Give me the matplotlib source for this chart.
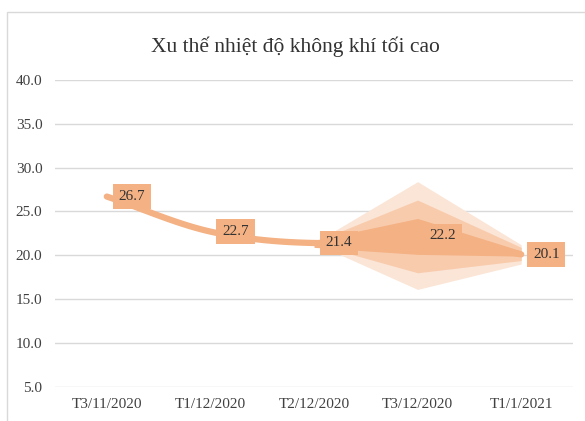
import matplotlib.pyplot as plt
import matplotlib.patches as patches
import numpy as np

plt.rcParams['font.family'] = ['Liberation Serif', 'DejaVu Serif']

categories = ['T3/11/2020', 'T1/12/2020', 'T2/12/2020', 'T3/12/2020', 'T1/1/2021']
values = [26.7, 22.7, 21.4, 22.2, 20.1]

# forecast cone (from T2/12 to T1/1)
cone_x = [2, 3, 4]
outer_hi = [21.4, 28.4, 21.2]
outer_lo = [21.4, 16.1, 19.0]
mid_hi = [21.5, 26.3, 20.9]
mid_lo = [21.3, 18.0, 19.4]
inner_hi = [21.7, 24.2, 20.5]
inner_lo = [20.9, 20.1, 19.9]

orange = '#F4B183'
mid_col = '#F8CBAD'
light_col = '#FBE5D6'
text_col = '#333333'


def smooth(xs, ys, n=30):
    # catmull-rom, like Excel's smoothed line
    xs = np.asarray(xs, float)
    ys = np.asarray(ys, float)
    px = np.concatenate([[2 * xs[0] - xs[1]], xs, [2 * xs[-1] - xs[-2]]])
    py = np.concatenate([[2 * ys[0] - ys[1]], ys, [2 * ys[-1] - ys[-2]]])
    out_x, out_y = [], []
    t = np.linspace(0, 1, n)
    for i in range(1, len(px) - 2):
        for p, out in ((px, out_x), (py, out_y)):
            p0, p1, p2, p3 = p[i - 1], p[i], p[i + 1], p[i + 2]
            out.extend(0.5 * (2 * p1 + (-p0 + p2) * t
                              + (2 * p0 - 5 * p1 + 4 * p2 - p3) * t ** 2
                              + (-p0 + 3 * p1 - 3 * p2 + p3) * t ** 3))
    return out_x, out_y


fig = plt.figure(figsize=(5.85, 4.21), dpi=100)
fig.patches.append(patches.Rectangle((7 / 585, -0.1), 1.2, 1 - 12 / 421 + 0.1,
                                     transform=fig.transFigure, fill=False,
                                     edgecolor='#D9D9D9', linewidth=1))
ax = fig.add_axes([55 / 585, 34.3 / 421, 518 / 585, 306.7 / 421])

x = np.arange(len(categories))
sx, sy = smooth(x, values)
ax.plot(sx, sy, color=orange, linewidth=4.5, solid_capstyle='round', zorder=3)

ax.fill_between(cone_x, outer_lo, outer_hi, color=light_col, linewidth=0, zorder=2)
ax.fill_between(cone_x, mid_lo, mid_hi, color=mid_col, linewidth=0, zorder=2)
ax.fill_between(cone_x, inner_lo, inner_hi, color=orange, linewidth=0, zorder=4)

for xi, v in zip(x, values):
    ax.annotate(f'{v:.1f}', (xi, v), xytext=(18, 0), textcoords='offset points',
                ha='center', va='center', fontsize=11, color=text_col, zorder=5,
                bbox=dict(boxstyle='square,pad=0.38', facecolor=orange, edgecolor='none'))

ax.set_xlim(-0.5, 4.5)
ax.set_ylim(5, 40)
ax.set_yticks(np.arange(5, 41, 5))
ax.set_yticklabels([f'{t:.1f}' for t in np.arange(5, 41, 5)])
ax.set_xticks(x)
ax.set_xticklabels(categories)
ax.tick_params(axis='both', length=0, labelsize=11, colors='#404040')
ax.tick_params(axis='y', pad=9)
ax.tick_params(axis='x', pad=8)
ax.grid(axis='y', color='#D9D9D9', linewidth=1)
ax.set_axisbelow(True)
for s in ax.spines.values():
    s.set_visible(False)

fig.text(0.505, 0.89, 'Xu thế nhiệt độ không khí tối cao', ha='center', va='center',
         fontsize=15.5, color=text_col)

fig.savefig('out.png', dpi=100)
